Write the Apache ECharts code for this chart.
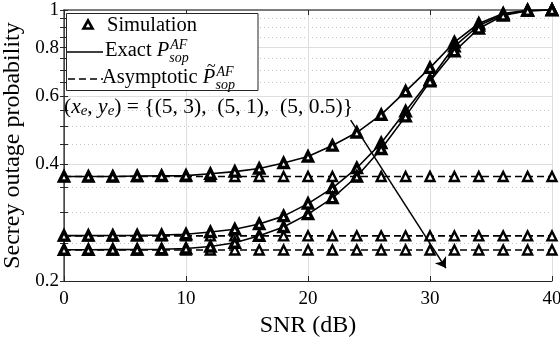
<!DOCTYPE html>
<html>
<head>
<meta charset="utf-8">
<script src="https://cdn.jsdelivr.net/npm/echarts@6/dist/echarts.min.js"></script>
<style>html,body{margin:0;padding:0;background:#fff}#c{width:560px;height:340px}</style>
</head>
<body>
<div id="c"></div>
<script>
// ---- data ----
const snr = [0,2,4,6,8,10,12,14,16,18,20,22,24,26,28,30,32,34,36,38,40];
const exact_5_3   = [0.372,0.372,0.372,0.373,0.3735,0.374,0.378,0.383,0.390,0.403,0.419,0.447,0.483,0.537,0.617,0.709,0.826,0.923,0.979,0.998,1.0];
const exact_5_1   = [0.2618,0.2618,0.262,0.2622,0.2628,0.264,0.2675,0.272,0.2805,0.294,0.3167,0.3472,0.3912,0.4537,0.548,0.661,0.806,0.912,0.974,0.996,1.0];
const exact_5_05  = [0.2408,0.2408,0.241,0.2412,0.2416,0.2425,0.2455,0.251,0.2615,0.2755,0.2975,0.3272,0.372,0.4379,0.5316,0.6546,0.7824,0.896,0.968,0.996,1.0];
const asym_5_3    = [0.372,0.372,0.372,0.372,0.372,0.372,0.372,0.372,0.372,0.372,0.372,0.372,0.372,0.372,0.372,0.372,0.372,0.372,0.372,0.372,0.372];
const asym_5_1    = [0.2614,0.2614,0.2614,0.2614,0.2614,0.2614,0.2614,0.2614,0.2614,0.2614,0.2614,0.2614,0.2614,0.2614,0.2614,0.2614,0.2614,0.2614,0.2614,0.2614,0.2614];
const asym_5_05   = [0.2405,0.2405,0.2405,0.2405,0.2405,0.2405,0.2405,0.2405,0.2405,0.2405,0.2405,0.2405,0.2405,0.2405,0.2405,0.2405,0.2405,0.2405,0.2405,0.2405,0.2405];
const yMajorTicks = [0.2,0.4,0.6,0.8,1];
const yMinorTicks = [0.25,0.3,0.35,0.45,0.5,0.55,0.65,0.7,0.75,0.85,0.9,0.95];
const yAllTicks = [0.2,0.25,0.3,0.35,0.4,0.45,0.5,0.55,0.6,0.65,0.7,0.75,0.8,0.85,0.9,0.95,1];
const arrowFrom = [23.5, 0.52];
const arrowTo = [31.3, 0.216];

// ---- helpers ----
const FF = '"Liberation Serif", "Times New Roman", serif';
const ctx = document.createElement('canvas').getContext('2d');
function fontStr(size, italic){ return (italic ? 'italic ' : '') + size + 'px ' + FF; }
function measure(t, f){ ctx.font = f; return ctx.measureText(t).width; }
function layoutText(x, y, segs){
  const els = [];
  let cx = x;
  segs.forEach(s => {
    const parts = s.stack ? s.stack : [s];
    let w = 0;
    parts.forEach(p => {
      const f = fontStr(p.size, p.italic);
      els.push({type:'text', z:100, style:{text:p.t, x:cx + (p.dx||0), y:y + (p.dy||0), font:f, fill:'#000', verticalAlign:'middle', align:'left'}});
      w = Math.max(w, measure(p.t, f) + (p.dx||0));
    });
    cx += w;
  });
  return els;
}

const chart = echarts.init(document.getElementById('c'), null, {renderer:'canvas'});
const axisCol = '#262626';

function lineSeries(name, vals, dashed){
  return {
    name: name, type:'line', xAxisIndex:0, yAxisIndex:0,
    data: snr.map((x,i)=>[x, vals[i]]),
    symbol:'triangle', symbolSize: 9,
    itemStyle:{color:'#fff', borderColor:'#000', borderWidth: dashed ? 2.4 : 3.4},
    lineStyle:{color:'#000', width:1.6, type: dashed ? [7,4] : 'solid'},
    z: dashed ? 3 : 4,
    silent:true
  };
}

const series = [
  lineSeries('asymA', asym_5_3, true),
  lineSeries('asymB', asym_5_1, true),
  lineSeries('asymC', asym_5_05, true),
  lineSeries('exactA', exact_5_3, false),
  lineSeries('exactB', exact_5_1, false),
  lineSeries('exactC', exact_5_05, false)
];
series[0].markLine = {
  silent:true, symbol:['none','arrow'], symbolSize:10,
  lineStyle:{color:'#000', width:1.5, type:'solid'},
  label:{show:false},
  data:[[{coord:arrowFrom},{coord:arrowTo}]]
};

const yBase = {type:'log', logBase:10, min:0.2, max:1};

// legend + annotation graphics
const g = [];
g.push({type:'rect', z:99, shape:{x:66.5, y:13.5, width:191.5, height:77}, style:{fill:'#fff', stroke:'#262626', lineWidth:1}});
g.push({type:'polygon', z:100, shape:{points:[[88,20.5],[83.5,28.5],[92.5,28.5]]}, style:{fill:'#fff', stroke:'#000', lineWidth:2.6}});
g.push({type:'line', z:100, shape:{x1:67, y1:52, x2:103, y2:52}, style:{stroke:'#000', lineWidth:1.6}});
g.push({type:'line', z:100, shape:{x1:68, y1:79, x2:103, y2:79}, style:{stroke:'#000', lineWidth:1.6, lineDash:[7,4]}});
layoutText(107, 26, [{t:'Simulation', size:20.5}]).forEach(e=>g.push(e));
layoutText(105, 51, [{t:'Exact ', size:20.5},{t:'P', size:20.5, italic:true},{stack:[{t:'AF', size:14, italic:true, dy:-6, dx:1},{t:'sop', size:14, italic:true, dy:7, dx:0}]}]).forEach(e=>g.push(e));
layoutText(102, 78, [{t:'Asymptotic ', size:20.5},{stack:[{t:'P', size:20.5, italic:true},{t:'~', size:16, italic:true, dy:-11, dx:4}]},{stack:[{t:'AF', size:14, italic:true, dy:-6, dx:1},{t:'sop', size:14, italic:true, dy:7, dx:0}]}]).forEach(e=>g.push(e));
layoutText(64, 107, [
  {t:'(', size:21.5},{t:'x', size:21.5, italic:true},{t:'e', size:15, italic:true, dy:4},{t:', ', size:21.5},
  {t:'y', size:21.5, italic:true},{t:'e', size:15, italic:true, dy:4},{t:') = {(5, 3),  (5, 1),  (5, 0.5)}', size:21.5}
]).forEach(e=>g.push(e));

const option = {
  animation:false,
  backgroundColor:'#fff',
  grid:{left:64, right:8, top:10, bottom:59, containLabel:false, outerBoundsMode:'none'},
  xAxis:[
    {type:'value', min:0, max:40, interval:10, position:'bottom',
     axisLine:{lineStyle:{color:axisCol, width:1}},
     axisTick:{inside:true, length:5, lineStyle:{color:axisCol}},
     axisLabel:{color:'#000', fontFamily:FF, fontSize:19, margin:9},
     splitLine:{show:true, lineStyle:{color:'#dedede', width:1}},
     name:'SNR (dB)', nameLocation:'middle', nameGap:30,
     nameTextStyle:{color:'#000', fontFamily:FF, fontSize:24}},
    {type:'value', min:0, max:40, interval:10, position:'top',
     axisLine:{lineStyle:{color:'#555', width:1.5}},
     axisTick:{inside:true, length:5, lineStyle:{color:axisCol}},
     axisLabel:{show:false}, splitLine:{show:false}}
  ],
  yAxis:[
    Object.assign({}, yBase, {position:'left',
     axisLine:{show:true, lineStyle:{color:axisCol, width:1}},
     axisTick:{show:true, inside:true, length:4, customValues:yAllTicks, lineStyle:{color:axisCol}},
     axisLabel:{color:'#000', fontFamily:FF, fontSize:19, margin:5, customValues:yMajorTicks,
       formatter:(v)=> String(Math.round(v*10)/10)},
     splitLine:{show:false},
     name:'Secrey outage probability', nameLocation:'middle', nameGap:14,
     nameTextStyle:{color:'#000', fontFamily:FF, fontSize:24}}),
    Object.assign({}, yBase, {position:'right',
     axisLine:{show:true, lineStyle:{color:'#555', width:1.5}},
     axisTick:{show:true, inside:true, length:4, customValues:yAllTicks, lineStyle:{color:axisCol}},
     axisLabel:{show:false}, splitLine:{show:false}}),
    Object.assign({}, yBase, {position:'left',
     axisLine:{show:false}, axisTick:{show:false, customValues:yMajorTicks}, axisLabel:{show:false, customValues:yMajorTicks},
     splitLine:{show:true, lineStyle:{color:'#dedede', width:1}}}),
    Object.assign({}, yBase, {position:'left',
     axisLine:{show:false}, axisTick:{show:false, customValues:yMinorTicks}, axisLabel:{show:false, customValues:yMinorTicks},
     splitLine:{show:true, lineStyle:{color:'#c4c4c4', width:1, type:[1,3]}}})
  ],
  series: series,
  graphic: g
};
chart.setOption(option);
</script>
</body>
</html>
